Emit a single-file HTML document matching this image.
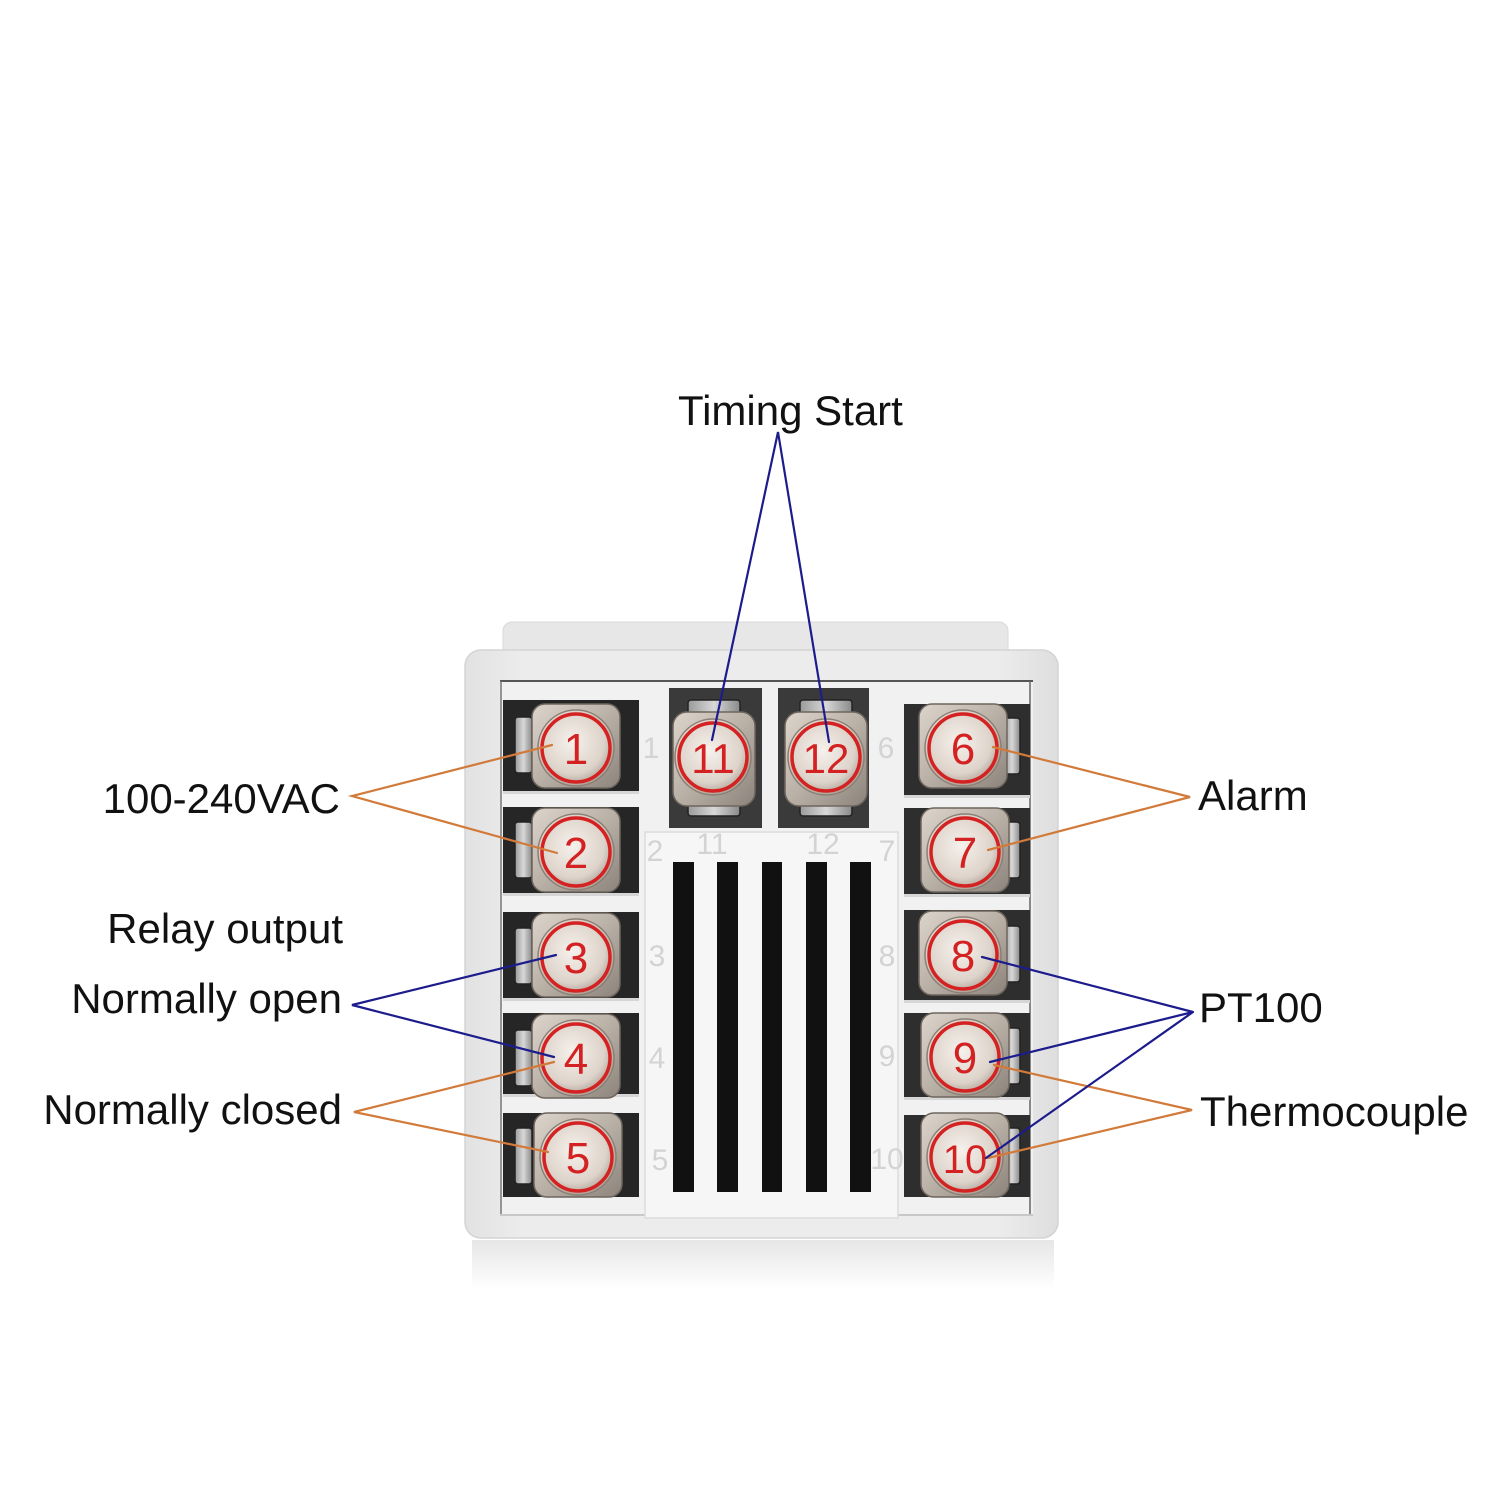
<!DOCTYPE html>
<html><head><meta charset="utf-8"><style>
html,body{margin:0;padding:0;background:#fff;}
svg{display:block;}
text{font-family:"Liberation Sans",Arial,sans-serif;}
</style></head><body>
<svg width="1500" height="1500" viewBox="0 0 1500 1500" xmlns="http://www.w3.org/2000/svg">
<defs>
  <linearGradient id="washer" x1="0" y1="0" x2="1" y2="1">
    <stop offset="0" stop-color="#ddd5cc"/>
    <stop offset="0.5" stop-color="#b9b0a6"/>
    <stop offset="1" stop-color="#8c847c"/>
  </linearGradient>
  <radialGradient id="head" cx="0.45" cy="0.42" r="0.6">
    <stop offset="0" stop-color="#f6f1ec"/>
    <stop offset="0.7" stop-color="#ddd3ca"/>
    <stop offset="1" stop-color="#a89c90"/>
  </radialGradient>
  <linearGradient id="clamp" x1="0" y1="0" x2="1" y2="0">
    <stop offset="0" stop-color="#9a9a9a"/>
    <stop offset="0.5" stop-color="#d8d8d8"/>
    <stop offset="1" stop-color="#8a8a8a"/>
  </linearGradient>
  <linearGradient id="refl" x1="0" y1="0" x2="0" y2="1">
    <stop offset="0" stop-color="#e6e6e6"/>
    <stop offset="1" stop-color="#ffffff"/>
  </linearGradient>
  <linearGradient id="bodyg" x1="0" y1="0" x2="1" y2="0">
    <stop offset="0" stop-color="#e2e2e2"/>
    <stop offset="0.1" stop-color="#ececec"/>
    <stop offset="0.9" stop-color="#ececec"/>
    <stop offset="1" stop-color="#dedede"/>
  </linearGradient>
  <g id="screw">
    <rect x="-44" y="-44" width="88" height="84" rx="13" fill="url(#washer)" stroke="#6e665e" stroke-width="1.5"/>
    <circle r="38" fill="url(#head)" stroke="#8a7f74" stroke-width="1.5"/>
    <circle r="34" fill="none" stroke="#d42222" stroke-width="3.5"/>
  </g>
</defs>

<rect width="1500" height="1500" fill="#fff"/>

<!-- reflection -->
<rect x="472" y="1240" width="582" height="50" fill="url(#refl)"/>

<!-- back plate -->
<rect x="503" y="622" width="505" height="60" rx="9" fill="#e7e7e7" stroke="#d8d8d8" stroke-width="1"/>
<!-- body -->
<rect x="465" y="650" width="593" height="588" rx="16" fill="url(#bodyg)" stroke="#d4d4d4" stroke-width="1.5"/>

<!-- terminal block frame -->
<rect x="500" y="680" width="533" height="536" fill="#f1f1f1"/>
<line x1="500" y1="681" x2="1033" y2="681" stroke="#555" stroke-width="2"/>
<line x1="501" y1="681" x2="501" y2="1214" stroke="#777" stroke-width="1.5"/>
<line x1="1030" y1="681" x2="1030" y2="1214" stroke="#666" stroke-width="1.5"/>
<line x1="500" y1="1215" x2="1033" y2="1215" stroke="#c8c8c8" stroke-width="2"/>

<!-- left cells -->
<g fill="#262626">
  <rect x="503" y="700" width="136" height="91"/>
  <rect x="503" y="807" width="136" height="86"/>
  <rect x="503" y="912" width="136" height="86"/>
  <rect x="503" y="1013" width="136" height="81"/>
  <rect x="503" y="1113" width="136" height="84"/>
</g>
<!-- right cells -->
<g fill="#2e2e2e">
  <rect x="904" y="704" width="126" height="91"/>
  <rect x="904" y="808" width="126" height="86"/>
  <rect x="904" y="910" width="126" height="90"/>
  <rect x="904" y="1013" width="126" height="84"/>
  <rect x="904" y="1115" width="126" height="82"/>
</g>
<!-- separator shadows -->
<g fill="#d6d6d6">
  <rect x="503" y="791" width="136" height="3"/>
  <rect x="503" y="893" width="136" height="3"/>
  <rect x="503" y="998" width="136" height="3"/>
  <rect x="503" y="1094" width="136" height="3"/>
  <rect x="904" y="795" width="126" height="3"/>
  <rect x="904" y="894" width="126" height="3"/>
  <rect x="904" y="1000" width="126" height="3"/>
  <rect x="904" y="1097" width="126" height="3"/>
</g>

<!-- clamps left -->
<g fill="url(#clamp)" stroke="#222" stroke-width="1.5">
  <rect x="515" y="717" width="17" height="56" rx="3"/>
  <rect x="515" y="822" width="17" height="56" rx="3"/>
  <rect x="515" y="928" width="17" height="56" rx="3"/>
  <rect x="515" y="1030" width="17" height="56" rx="3"/>
  <rect x="515" y="1128" width="17" height="56" rx="3"/>
</g>
<!-- clamps right -->
<g fill="url(#clamp)" stroke="#222" stroke-width="1.5">
  <rect x="1004" y="718" width="16" height="56" rx="3"/>
  <rect x="1004" y="822" width="16" height="56" rx="3"/>
  <rect x="1004" y="926" width="16" height="56" rx="3"/>
  <rect x="1004" y="1028" width="16" height="56" rx="3"/>
  <rect x="1004" y="1128" width="16" height="56" rx="3"/>
</g>

<!-- middle compartments 11 and 12 -->
<rect x="669" y="688" width="93" height="140" fill="#3a3a3a"/>
<rect x="778" y="688" width="91" height="140" fill="#3a3a3a"/>
<g fill="url(#clamp)" stroke="#222" stroke-width="1.5">
  <rect x="688" y="700" width="52" height="16" rx="3"/>
  <rect x="688" y="800" width="52" height="16" rx="3"/>
  <rect x="800" y="700" width="52" height="16" rx="3"/>
  <rect x="800" y="800" width="52" height="16" rx="3"/>
</g>
<rect x="673" y="712" width="82" height="94" rx="14" fill="url(#washer)" stroke="#6e665e" stroke-width="1.5"/>
<rect x="785" y="712" width="82" height="94" rx="14" fill="url(#washer)" stroke="#6e665e" stroke-width="1.5"/>

<!-- center grille panel -->
<rect x="645" y="832" width="253" height="386" fill="#f6f6f6" stroke="#dcdcdc" stroke-width="1.5"/>
<g fill="#111">
  <rect x="673" y="862" width="21" height="330"/>
  <rect x="717" y="862" width="21" height="330"/>
  <rect x="762" y="862" width="20" height="330"/>
  <rect x="806" y="862" width="21" height="330"/>
  <rect x="850" y="862" width="21" height="330"/>
</g>

<!-- engraved numbers -->
<g fill="#d3d3d3" font-size="30" text-anchor="middle">
  <text x="651" y="758">1</text>
  <text x="655" y="861">2</text>
  <text x="657" y="966">3</text>
  <text x="657" y="1068">4</text>
  <text x="660" y="1170">5</text>
  <text x="886" y="758">6</text>
  <text x="887" y="861">7</text>
  <text x="887" y="966">8</text>
  <text x="887" y="1066">9</text>
  <text x="887" y="1169">10</text>
  <text x="712" y="854">11</text>
  <text x="823" y="854">12</text>
</g>

<!-- screws -->
<use href="#screw" x="576" y="748"/>
<use href="#screw" x="576" y="852"/>
<use href="#screw" x="576" y="957"/>
<use href="#screw" x="576" y="1058"/>
<use href="#screw" x="578" y="1157"/>
<use href="#screw" x="963" y="748"/>
<use href="#screw" x="965" y="852"/>
<use href="#screw" x="963" y="955"/>
<use href="#screw" x="965" y="1057"/>
<use href="#screw" x="965" y="1157"/>
<circle cx="713" cy="757" r="38" fill="url(#head)" stroke="#8a7f74" stroke-width="1.5"/>
<circle cx="713" cy="757" r="34" fill="none" stroke="#d42222" stroke-width="3.5"/>
<circle cx="826" cy="757" r="38" fill="url(#head)" stroke="#8a7f74" stroke-width="1.5"/>
<circle cx="826" cy="757" r="34" fill="none" stroke="#d42222" stroke-width="3.5"/>

<!-- red numbers -->
<g fill="#d42222" font-size="44" text-anchor="middle">
  <text x="576" y="764">1</text>
  <text x="576" y="868">2</text>
  <text x="576" y="973">3</text>
  <text x="576" y="1074">4</text>
  <text x="578" y="1173">5</text>
  <text x="963" y="764">6</text>
  <text x="965" y="868">7</text>
  <text x="963" y="971">8</text>
  <text x="965" y="1073">9</text>
  <text x="965" y="1173" font-size="40">10</text>
  <text x="713" y="773" font-size="42">11</text>
  <text x="826" y="773" font-size="42">12</text>
</g>

<!-- connector lines -->
<g fill="none" stroke-width="2.2" stroke-linecap="round">
  <!-- orange -->
  <polyline points="552,745 352,796 557,853" stroke="#d27a3a"/>
  <polyline points="993,747 1190,797 988,850" stroke="#d27a3a"/>
  <polyline points="554,1062 354,1112 548,1152" stroke="#d27a3a"/>
  <polyline points="994,1065 1192,1110 988,1158" stroke="#d27a3a"/>
  <!-- blue -->
  <polyline points="712,740 778,432 829,742" stroke="#1c1c8c"/>
  <polyline points="556,955 352,1005 554,1057" stroke="#1c1c8c"/>
  <polyline points="982,957 1193,1012 990,1062" stroke="#1c1c8c"/>
  <polyline points="1193,1012 986,1158" stroke="#1c1c8c"/>
</g>

<!-- labels -->
<g fill="#111" font-size="42">
  <text x="678" y="425">Timing Start</text>
  <text x="340" y="813" text-anchor="end">100-240VAC</text>
  <text x="343" y="943" text-anchor="end">Relay output</text>
  <text x="342" y="1013" text-anchor="end">Normally open</text>
  <text x="342" y="1124" text-anchor="end">Normally closed</text>
  <text x="1198" y="810">Alarm</text>
  <text x="1199" y="1022">PT100</text>
  <text x="1200" y="1126">Thermocouple</text>
</g>
</svg>
</body></html>
